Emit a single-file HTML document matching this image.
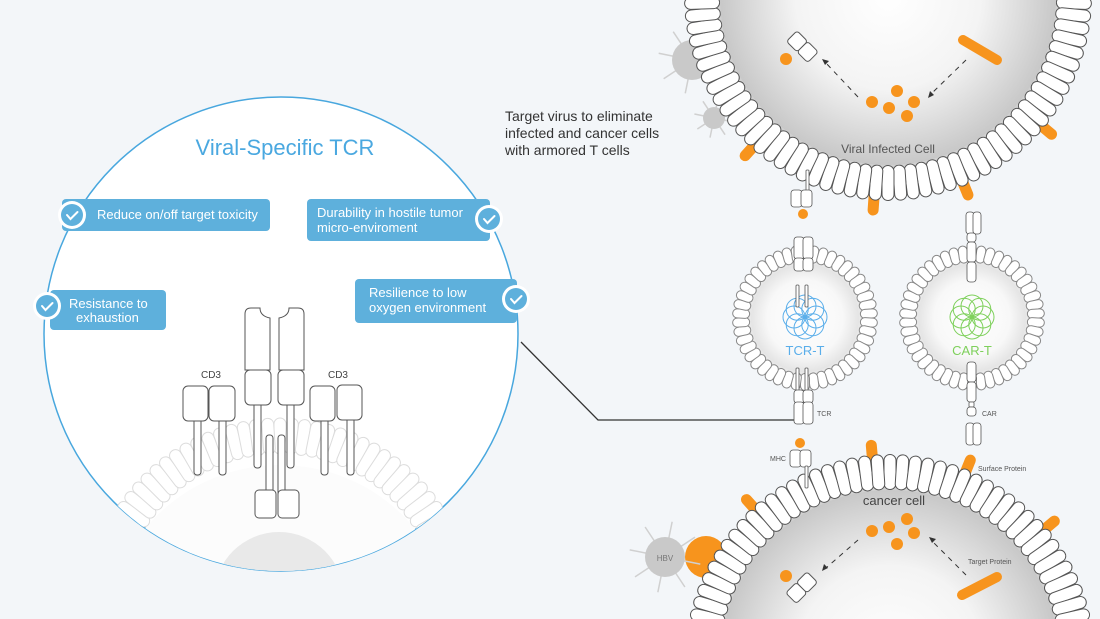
<!DOCTYPE html>
<html><head><meta charset="utf-8"><style>
html,body{margin:0;padding:0;background:#f3f6f9;overflow:hidden;width:1100px;height:619px;}
svg{display:block;font-family:"Liberation Sans",sans-serif;}
</style></head><body>
<svg id="s" width="1100" height="619" viewBox="0 0 1100 619" xmlns="http://www.w3.org/2000/svg">
<defs>
<radialGradient id="g1" cx="0.5" cy="0.5" r="0.5"><stop offset="0" stop-color="#ffffff"/><stop offset="0.55" stop-color="#f4f4f4"/><stop offset="1" stop-color="#c8c8c8"/></radialGradient>
<radialGradient id="g2" cx="0.5" cy="0.5" r="0.5"><stop offset="0" stop-color="#ffffff"/><stop offset="0.7" stop-color="#f8f8f8"/><stop offset="1" stop-color="#e4e4e4"/></radialGradient>
<clipPath id="cc"><circle cx="281" cy="334" r="237"/></clipPath>
</defs>
<rect width="1100" height="619" fill="#f3f6f9"/>

<polyline points="521,342 598,420 797,420" fill="none" stroke="#333" stroke-width="1.3"/>

<circle cx="281" cy="334" r="237" fill="#fff" stroke="#48a7de" stroke-width="1.5"/>
<g clip-path="url(#cc)">
 <circle cx="280" cy="640" r="175" fill="#fcfcfc"/>
 <g id="leftlip"></g>
 <circle cx="279" cy="597" r="65" fill="#e9e9e9"/>
</g>
<text x="285" y="155" font-size="22" fill="#4aa8e0" text-anchor="middle">Viral-Specific TCR</text>

<g font-size="13" fill="#fff">
 <rect x="62" y="199" width="208" height="32" rx="4" fill="#5eb0dc"/>
 <text x="97" y="219">Reduce on/off target toxicity</text>
 <rect x="307" y="199" width="183" height="42" rx="4" fill="#5eb0dc"/>
 <text x="317" y="217">Durability in hostile tumor</text><text x="317" y="232">micro-enviroment</text>
 <rect x="50" y="290" width="116" height="40" rx="4" fill="#5eb0dc"/>
 <text x="69" y="308">Resistance to</text><text x="76" y="322">exhaustion</text>
 <rect x="355" y="279" width="162" height="44" rx="4" fill="#5eb0dc"/>
 <text x="369" y="297">Resilience to low</text><text x="369" y="312">oxygen environment</text>
</g>
<g id="checks"></g>

<g fill="#fff" stroke="#555" stroke-width="1">
 <rect x="254" y="400" width="7" height="68" rx="3"/><rect x="287" y="400" width="7" height="68" rx="3"/>
 <path d="M245,314 q0,-6 6,-6 h9 q0,8 10,10 v52 h-25 z"/>
 <path d="M304,314 q0,-6 -6,-6 h-9 q0,8 -10,10 v52 h25 z"/>
 <rect x="245" y="370" width="26" height="35" rx="5"/><rect x="278" y="370" width="26" height="35" rx="5"/>
 <rect x="266" y="435" width="7" height="60" rx="3"/><rect x="278" y="435" width="7" height="60" rx="3"/>
 <rect x="255" y="490" width="21" height="28" rx="4"/><rect x="278" y="490" width="21" height="28" rx="4"/>
 <rect x="194" y="415" width="7" height="60" rx="3"/><rect x="219" y="415" width="7" height="60" rx="3"/>
 <rect x="321" y="415" width="7" height="60" rx="3"/><rect x="347" y="415" width="7" height="60" rx="3"/>
 <rect x="183" y="386" width="25" height="35" rx="5"/><rect x="209" y="386" width="26" height="35" rx="5"/>
 <rect x="310" y="386" width="25" height="35" rx="5"/><rect x="337" y="385" width="25" height="35" rx="5"/>
</g>
<text x="211" y="378" font-size="10" fill="#444" text-anchor="middle">CD3</text>
<text x="338" y="378" font-size="10" fill="#444" text-anchor="middle">CD3</text>

<text font-size="14" fill="#333"><tspan x="505" y="121">Target virus to eliminate</tspan><tspan x="505" y="138">infected and cancer cells</tspan><tspan x="505" y="155">with armored T cells</tspan></text>

<g id="virus"></g>
<g id="vc"></g>
<g id="cc2"></g>
<g id="tc"></g>
<g id="front"></g>
</svg>
<script>
var NS="http://www.w3.org/2000/svg";
function el(p,t,a){var e=document.createElementNS(NS,t);for(var k in a)e.setAttribute(k,a[k]);p.appendChild(e);return e;}
function lipids(g,cx,cy,R,L,W,N,stroke){
 for(var i=0;i<N;i++){var a=360*i/N;
  el(g,'rect',{x:cx-W/2,y:cy-R-L/2,width:W,height:L,rx:W/2,fill:'#fff',stroke:stroke,'stroke-width':1,transform:'rotate('+a+' '+cx+' '+cy+')'});}
}
var O='#f7941d';
lipids(document.getElementById('leftlip'),280,612,176,36,12,96,'#dcdcdc');
var ch=document.getElementById('checks');
[[72,215],[489,219],[47,306],[516,299]].forEach(function(c){
 el(ch,'circle',{cx:c[0],cy:c[1],r:14,fill:'#fff'});
 el(ch,'circle',{cx:c[0],cy:c[1],r:11,fill:'#5eb0dc'});
 el(ch,'path',{d:'M'+(c[0]-5)+','+c[1]+' l3.5,4 l7,-7',fill:'none',stroke:'#fff','stroke-width':2,'stroke-linecap':'round'});
});
// viruses (behind cells)
var v=document.getElementById('virus');
function virus(x,y,r,sp){for(var i=0;i<8;i++){var a=i*Math.PI/4+0.2;el(v,'line',{x1:x,y1:y,x2:x+Math.cos(a)*(r+sp),y2:y+Math.sin(a)*(r+sp),stroke:'#d0d0d0','stroke-width':1.5});}
 el(v,'circle',{cx:x,cy:y,r:r,fill:'#c9c9c9'});}
virus(692,60,20,14);virus(714,118,11,9);
el(v,'circle',{cx:706,cy:557,r:21,fill:O});
virus(665,557,20,16);
el(v,'text',{x:665,y:561,'font-size':8,fill:'#777','text-anchor':'middle'}).textContent='HBV';

function bump(g,cx,cy,R,a,len){el(g,'rect',{x:cx-5.5,y:cy-R-len,width:11,height:len+15,rx:5.5,fill:O,transform:'rotate('+a+' '+cx+' '+cy+')'});}
var vc=document.getElementById('vc');
[222,184,158,130].forEach(function(a){bump(vc,888,-3,203,a,16);});
el(vc,'circle',{cx:888,cy:-3,r:185,fill:'url(#g1)'});
lipids(vc,888,-3,186,35,12,98,'#555');
el(vc,'circle',{cx:888,cy:-3,r:168,fill:'url(#g1)'});
el(vc,'text',{x:888,y:153,'font-size':12,fill:'#555','text-anchor':'middle'}).textContent='Viral Infected Cell';
function blocks(g,x,y,rot){var gg=el(g,'g',{transform:'translate('+x+','+y+') rotate('+rot+')'});
 el(gg,'rect',{x:-15,y:-8,width:15,height:15,rx:3,fill:'#fff',stroke:'#555'});el(gg,'rect',{x:0,y:-8,width:15,height:15,rx:3,fill:'#fff',stroke:'#555'});}
blocks(vc,802,47,45);el(vc,'circle',{cx:786,cy:59,r:6,fill:O});
el(vc,'line',{x1:963,y1:40,x2:997,y2:60,stroke:O,'stroke-width':10,'stroke-linecap':'round'});
[[872,102],[897,91],[889,108],[914,102],[907,116]].forEach(function(p){el(vc,'circle',{cx:p[0],cy:p[1],r:6,fill:O});});
el(vc,'line',{x1:858,y1:97,x2:825,y2:62,stroke:'#333','stroke-dasharray':'5,5'});
el(vc,'path',{d:'M822,59 l7,2 l-4,4 z',fill:'#333'});
el(vc,'line',{x1:966,y1:60,x2:931,y2:94,stroke:'#333','stroke-dasharray':'5,5'});
el(vc,'path',{d:'M928,98 l2,-7 l4,4 z',fill:'#333'});
var c2=document.getElementById('cc2');
[-5,22,-42,50].forEach(function(a){bump(c2,890,659,204,a,16);});
el(c2,'circle',{cx:890,cy:659,r:186,fill:'url(#g1)'});
lipids(c2,890,659,187,35,12,98,'#555');
el(c2,'circle',{cx:890,cy:659,r:169,fill:'url(#g1)'});
el(c2,'text',{x:894,y:505,'font-size':13,fill:'#444','text-anchor':'middle'}).textContent='cancer cell';
blocks(c2,802,588,-45);el(c2,'circle',{cx:786,cy:576,r:6,fill:O});
el(c2,'line',{x1:962,y1:595,x2:997,y2:577,stroke:O,'stroke-width':10,'stroke-linecap':'round'});
[[872,531],[889,527],[907,519],[914,533],[897,544]].forEach(function(p){el(c2,'circle',{cx:p[0],cy:p[1],r:6,fill:O});});
el(c2,'line',{x1:858,y1:540,x2:826,y2:568,stroke:'#333','stroke-dasharray':'5,5'});
el(c2,'path',{d:'M822,571 l2,-7 l4,4 z',fill:'#333'});
el(c2,'line',{x1:966,y1:575,x2:932,y2:541,stroke:'#333','stroke-dasharray':'5,5'});
el(c2,'path',{d:'M929,537 l7,2 l-4,4 z',fill:'#333'});
el(c2,'text',{x:968,y:564,'font-size':7,fill:'#555'}).textContent='Target Protein';
el(c2,'text',{x:978,y:471,'font-size':7,fill:'#555'}).textContent='Surface Protein';
var tc=document.getElementById('tc');
function tcell(cx,cy,col,label){
 el(tc,'circle',{cx:cx,cy:cy,r:58,fill:'url(#g2)'});
 lipids(tc,cx,cy,64,17,9,46,'#888');
 el(tc,'circle',{cx:cx,cy:cy,r:54,fill:'url(#g2)'});
 for(var i=0;i<8;i++){var a=i*Math.PI/4;el(tc,'circle',{cx:cx+Math.cos(a)*11,cy:cy-1+Math.sin(a)*11,r:11,fill:'none',stroke:col,'stroke-width':1});}
 el(tc,'circle',{cx:cx,cy:cy-1,r:2,fill:col});
 el(tc,'text',{x:cx,y:cy+37,'font-size':13,fill:col,'text-anchor':'middle'}).textContent=label;
}
tcell(805,318,'#5aaeea','TCR-T');
tcell(972,318,'#7ed05b','CAR-T');
var f=document.getElementById('front');
function r(x,y,w,h,rx){el(f,'rect',{x:x,y:y,width:w,height:h,rx:rx||3,fill:'#fff',stroke:'#555','stroke-width':0.8});}
r(806,170,3,22,1);r(791,190,11,17);r(801,190,11,17);el(f,'circle',{cx:803,cy:214,r:5,fill:O});
r(796,285,3,22,1);r(805,285,3,22,1);r(794,237,10,22);r(803,237,10,22);r(794,258,10,13);r(803,258,10,13);
r(796,368,3,24,1);r(805,368,3,24,1);r(794,390,10,13);r(803,390,10,13);r(794,402,10,22);r(803,402,10,22);
el(f,'text',{x:817,y:416,'font-size':7,fill:'#555'}).textContent='TCR';
el(f,'circle',{cx:800,cy:443,r:5,fill:O});r(790,450,11,17);r(800,450,11,17);r(805,466,3,22,1);
el(f,'text',{x:770,y:461,'font-size':7,fill:'#555'}).textContent='MHC';
r(966,212,8,22);r(973,212,8,22);r(967,233,9,9);r(967,242,9,20);r(967,262,9,20);
r(967,362,9,20);r(967,382,9,20);r(969,402,5,5,1);r(967,407,9,9);r(966,423,8,22);r(973,423,8,22);
el(f,'text',{x:982,y:416,'font-size':7,fill:'#555'}).textContent='CAR';
</script>
</body></html>
